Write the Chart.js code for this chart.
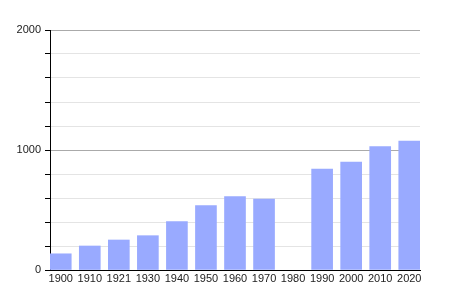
<!DOCTYPE html>
<html>
<head>
<meta charset="utf-8">
<script src="https://cdn.jsdelivr.net/npm/chart.js@4"></script>
<style>
  html, body { margin: 0; padding: 0; background: #fff; }
  #wrap { width: 450px; height: 300px; }
</style>
</head>
<body>
<div id="wrap"><canvas id="chart"></canvas></div>
<script>
const years = ['1900', '1910', '1921', '1930', '1940', '1950', '1960', '1970', '1980', '1990', '2000', '2010', '2020'];
const population = [135, 200, 250, 286, 403, 536, 611, 592, null, 842, 900, 1028, 1075];
const yMax = 2000;
const yStep = 200;

const ctx = document.getElementById('chart').getContext('2d');
new Chart(ctx, {
  type: 'bar',
  data: {
    datasets: [{
      data: population.map((v, i) => ({ x: i, y: v })),
      backgroundColor: '#99aaff',
      borderWidth: 0,
      barThickness: 21,
    }],
  },
  options: {
    responsive: true,
    maintainAspectRatio: false,
    animation: false,
    layout: { padding: { left: 0, right: 30, top: 30, bottom: 10 } },
    plugins: {
      legend: { display: false },
      tooltip: { enabled: false },
    },
    scales: {
      x: {
        type: 'linear',
        offset: false,
        min: -0.37,
        max: years.length - 1 + 0.37,
        afterBuildTicks: (scale) => {
          scale.ticks = years.map((y, i) => ({ value: i }));
        },
        afterFit: (scale) => { scale.height = 20; },
        grid: { display: false, drawTicks: false, offset: false },
        border: { display: true, color: '#000', width: 1 },
        ticks: {
          autoSkip: false,
          maxRotation: 0,
          padding: 2,
          color: '#222',
          font: { family: 'Liberation Sans', size: 11 },
          callback: (value) => years[value],
        },
      },
      y: {
        min: 0,
        max: yMax,
        afterFit: (scale) => { scale.width = 50; },
        grid: {
          drawTicks: true,
          tickLength: 5,
          tickColor: '#000',
          color: (c) => (c.tick && c.tick.value % 1000 === 0 ? '#aaa' : '#e4e4e4'),
        },
        border: { display: true, color: '#000', width: 1 },
        ticks: {
          stepSize: yStep,
          padding: 4,
          color: '#222',
          font: { family: 'Liberation Sans', size: 11 },
          callback: (value) => (value % 1000 === 0 ? value : ''),
        },
      },
    },
  },
});
</script>
</body>
</html>
